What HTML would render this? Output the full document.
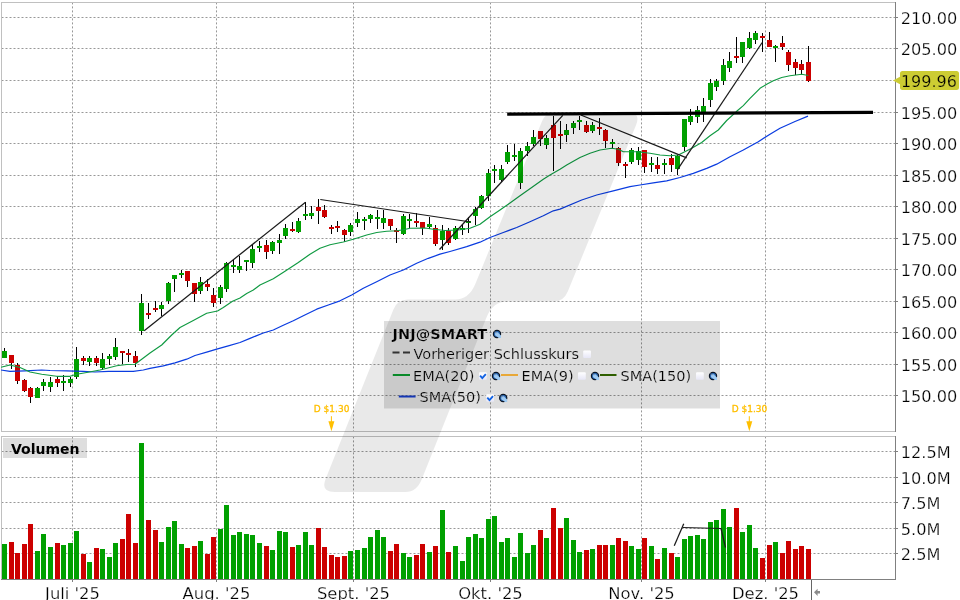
<!DOCTYPE html>
<html lang="de"><head><meta charset="utf-8"><title>JNJ@SMART Chart</title>
<style>html,body{margin:0;padding:0;background:#fff;overflow:hidden}body{width:960px;height:600px}</style>
</head><body>
<svg width="960" height="600" viewBox="0 0 960 600" style="display:block">
<defs>
<radialGradient id="gl" cx="0.6" cy="0.65" r="0.7"><stop offset="0" stop-color="#b9d6f2"/><stop offset="0.55" stop-color="#5b8fc7"/><stop offset="1" stop-color="#17325e"/></radialGradient>
<linearGradient id="cbg" x1="0" y1="0" x2="0" y2="1"><stop offset="0" stop-color="#ffffff"/><stop offset="1" stop-color="#e6e6f6"/></linearGradient>
</defs>
<rect width="960" height="600" fill="#fff"/>
<g stroke="#989898" stroke-width="1" stroke-dasharray="2 2" fill="none">
<path d="M1.5 17.5H895"/>
<path d="M1.5 48.5H895"/>
<path d="M1.5 80.5H895"/>
<path d="M1.5 112.5H895"/>
<path d="M1.5 143.5H895"/>
<path d="M1.5 175.5H895"/>
<path d="M1.5 206.5H895"/>
<path d="M1.5 238.5H895"/>
<path d="M1.5 269.5H895"/>
<path d="M1.5 301.5H895"/>
<path d="M1.5 332.5H895"/>
<path d="M1.5 364.5H895"/>
<path d="M1.5 395.5H895"/>
<path d="M1.5 451.5H895"/>
<path d="M1.5 477.5H895"/>
<path d="M1.5 502.5H895"/>
<path d="M1.5 528.5H895"/>
<path d="M1.5 553.5H895"/>
<path d="M72.5 2.4V431"/>
<path d="M72.5 436.4V579"/>
<path d="M216.5 2.4V431"/>
<path d="M216.5 436.4V579"/>
<path d="M353.5 2.4V431"/>
<path d="M353.5 436.4V579"/>
<path d="M490.5 2.4V431"/>
<path d="M490.5 436.4V579"/>
<path d="M641.5 2.4V431"/>
<path d="M641.5 436.4V579"/>
<path d="M765.5 2.4V431"/>
<path d="M765.5 436.4V579"/>
</g>
<g shape-rendering="crispEdges" fill="none" stroke-width="1">
<path d="M1.5 432V2.5H896" stroke="#c0c0c0"/>
<path d="M1 431.5H896" stroke="#c0c0c0"/>
<path d="M1.5 580V436.5H896" stroke="#c0c0c0"/>
<path d="M895.5 2V432M895.5 436V580" stroke="#808080"/>
<path d="M1 579.5H896" stroke="#808080"/>
<path d="M896 17.5H898" stroke="#808080"/>
<path d="M896 48.5H898" stroke="#808080"/>
<path d="M896 80.5H898" stroke="#808080"/>
<path d="M896 112.5H898" stroke="#808080"/>
<path d="M896 143.5H898" stroke="#808080"/>
<path d="M896 175.5H898" stroke="#808080"/>
<path d="M896 206.5H898" stroke="#808080"/>
<path d="M896 238.5H898" stroke="#808080"/>
<path d="M896 269.5H898" stroke="#808080"/>
<path d="M896 301.5H898" stroke="#808080"/>
<path d="M896 332.5H898" stroke="#808080"/>
<path d="M896 364.5H898" stroke="#808080"/>
<path d="M896 395.5H898" stroke="#808080"/>
<path d="M896 451.5H898" stroke="#808080"/>
<path d="M896 477.5H898" stroke="#808080"/>
<path d="M896 502.5H898" stroke="#808080"/>
<path d="M896 528.5H898" stroke="#808080"/>
<path d="M896 553.5H898" stroke="#808080"/>
<path d="M72.5 580V582" stroke="#808080"/>
<path d="M216.5 580V582" stroke="#808080"/>
<path d="M353.5 580V582" stroke="#808080"/>
<path d="M490.5 580V582" stroke="#808080"/>
<path d="M641.5 580V582" stroke="#808080"/>
<path d="M765.5 580V582" stroke="#808080"/>
<path d="M811.5 580V600" stroke="#666"/>
</g>
<rect x="384" y="321" width="336" height="87.5" fill="#000" fill-opacity="0.13"/>
<rect x="3" y="438" width="84" height="20" fill="#000" fill-opacity="0.13"/>
<g shape-rendering="crispEdges">
<rect x="2" y="544" width="5" height="35" fill="#00a000"/>
<rect x="9" y="542" width="5" height="37" fill="#cc0000"/>
<rect x="15" y="553" width="5" height="26" fill="#cc0000"/>
<rect x="22" y="544" width="5" height="35" fill="#cc0000"/>
<rect x="28" y="524" width="5" height="55" fill="#cc0000"/>
<rect x="35" y="551" width="5" height="28" fill="#00a000"/>
<rect x="41" y="534" width="5" height="45" fill="#00a000"/>
<rect x="48" y="547" width="5" height="32" fill="#00a000"/>
<rect x="55" y="543" width="5" height="36" fill="#cc0000"/>
<rect x="61" y="545" width="5" height="34" fill="#00a000"/>
<rect x="68" y="543" width="5" height="36" fill="#00a000"/>
<rect x="74" y="531" width="5" height="48" fill="#00a000"/>
<rect x="81" y="554" width="5" height="25" fill="#cc0000"/>
<rect x="87" y="562" width="5" height="17" fill="#00a000"/>
<rect x="94" y="548" width="5" height="31" fill="#cc0000"/>
<rect x="100" y="549" width="5" height="30" fill="#00a000"/>
<rect x="107" y="557" width="5" height="22" fill="#00a000"/>
<rect x="113" y="543" width="5" height="36" fill="#00a000"/>
<rect x="120" y="539" width="5" height="40" fill="#cc0000"/>
<rect x="126" y="514" width="5" height="65" fill="#cc0000"/>
<rect x="133" y="543" width="5" height="36" fill="#cc0000"/>
<rect x="139" y="443" width="5" height="136" fill="#00a000"/>
<rect x="146" y="520" width="5" height="59" fill="#cc0000"/>
<rect x="153" y="530" width="5" height="49" fill="#cc0000"/>
<rect x="159" y="542" width="5" height="37" fill="#00a000"/>
<rect x="166" y="527" width="5" height="52" fill="#00a000"/>
<rect x="172" y="521" width="5" height="58" fill="#00a000"/>
<rect x="179" y="544" width="5" height="35" fill="#00a000"/>
<rect x="185" y="548" width="5" height="31" fill="#cc0000"/>
<rect x="192" y="546" width="5" height="33" fill="#cc0000"/>
<rect x="198" y="541" width="5" height="38" fill="#00a000"/>
<rect x="205" y="554" width="5" height="25" fill="#cc0000"/>
<rect x="211" y="537" width="5" height="42" fill="#cc0000"/>
<rect x="218" y="529" width="5" height="50" fill="#00a000"/>
<rect x="224" y="505" width="5" height="74" fill="#00a000"/>
<rect x="231" y="535" width="5" height="44" fill="#00a000"/>
<rect x="237" y="532" width="5" height="47" fill="#00a000"/>
<rect x="244" y="534" width="5" height="45" fill="#00a000"/>
<rect x="250" y="535" width="5" height="44" fill="#00a000"/>
<rect x="257" y="543" width="5" height="36" fill="#00a000"/>
<rect x="264" y="546" width="5" height="33" fill="#cc0000"/>
<rect x="270" y="550" width="5" height="29" fill="#00a000"/>
<rect x="277" y="531" width="5" height="48" fill="#00a000"/>
<rect x="283" y="532" width="5" height="47" fill="#00a000"/>
<rect x="290" y="547" width="5" height="32" fill="#cc0000"/>
<rect x="296" y="545" width="5" height="34" fill="#00a000"/>
<rect x="303" y="532" width="5" height="47" fill="#00a000"/>
<rect x="309" y="545" width="5" height="34" fill="#00a000"/>
<rect x="316" y="528" width="5" height="51" fill="#cc0000"/>
<rect x="322" y="547" width="5" height="32" fill="#cc0000"/>
<rect x="329" y="555" width="5" height="24" fill="#cc0000"/>
<rect x="335" y="557" width="5" height="22" fill="#cc0000"/>
<rect x="342" y="556" width="5" height="23" fill="#cc0000"/>
<rect x="348" y="551" width="5" height="28" fill="#00a000"/>
<rect x="355" y="550" width="5" height="29" fill="#00a000"/>
<rect x="362" y="548" width="5" height="31" fill="#00a000"/>
<rect x="368" y="537" width="5" height="42" fill="#00a000"/>
<rect x="375" y="530" width="5" height="49" fill="#00a000"/>
<rect x="381" y="537" width="5" height="42" fill="#00a000"/>
<rect x="388" y="551" width="5" height="28" fill="#cc0000"/>
<rect x="394" y="544" width="5" height="35" fill="#cc0000"/>
<rect x="401" y="553" width="5" height="26" fill="#00a000"/>
<rect x="407" y="557" width="5" height="22" fill="#00a000"/>
<rect x="414" y="555" width="5" height="24" fill="#cc0000"/>
<rect x="420" y="544" width="5" height="35" fill="#cc0000"/>
<rect x="427" y="552" width="5" height="27" fill="#00a000"/>
<rect x="433" y="546" width="5" height="33" fill="#cc0000"/>
<rect x="440" y="510" width="5" height="69" fill="#00a000"/>
<rect x="446" y="552" width="5" height="27" fill="#cc0000"/>
<rect x="453" y="546" width="5" height="33" fill="#00a000"/>
<rect x="460" y="561" width="5" height="18" fill="#00a000"/>
<rect x="466" y="537" width="5" height="42" fill="#00a000"/>
<rect x="473" y="534" width="5" height="45" fill="#00a000"/>
<rect x="479" y="538" width="5" height="41" fill="#00a000"/>
<rect x="486" y="519" width="5" height="60" fill="#00a000"/>
<rect x="492" y="516" width="5" height="63" fill="#00a000"/>
<rect x="499" y="542" width="5" height="37" fill="#00a000"/>
<rect x="505" y="538" width="5" height="41" fill="#00a000"/>
<rect x="512" y="557" width="5" height="22" fill="#00a000"/>
<rect x="518" y="533" width="5" height="46" fill="#00a000"/>
<rect x="525" y="553" width="5" height="26" fill="#00a000"/>
<rect x="531" y="545" width="5" height="34" fill="#00a000"/>
<rect x="538" y="530" width="5" height="49" fill="#cc0000"/>
<rect x="544" y="538" width="5" height="41" fill="#00a000"/>
<rect x="551" y="508" width="5" height="71" fill="#cc0000"/>
<rect x="558" y="528" width="5" height="51" fill="#cc0000"/>
<rect x="564" y="518" width="5" height="61" fill="#00a000"/>
<rect x="571" y="540" width="5" height="39" fill="#00a000"/>
<rect x="577" y="552" width="5" height="27" fill="#00a000"/>
<rect x="584" y="550" width="5" height="29" fill="#cc0000"/>
<rect x="590" y="549" width="5" height="30" fill="#00a000"/>
<rect x="597" y="545" width="5" height="34" fill="#cc0000"/>
<rect x="603" y="545" width="5" height="34" fill="#cc0000"/>
<rect x="610" y="545" width="5" height="34" fill="#00a000"/>
<rect x="616" y="538" width="5" height="41" fill="#cc0000"/>
<rect x="623" y="541" width="5" height="38" fill="#cc0000"/>
<rect x="629" y="546" width="5" height="33" fill="#00a000"/>
<rect x="636" y="549" width="5" height="30" fill="#00a000"/>
<rect x="642" y="538" width="5" height="41" fill="#cc0000"/>
<rect x="649" y="546" width="5" height="33" fill="#00a000"/>
<rect x="655" y="559" width="5" height="20" fill="#cc0000"/>
<rect x="662" y="548" width="5" height="31" fill="#00a000"/>
<rect x="669" y="553" width="5" height="26" fill="#cc0000"/>
<rect x="675" y="557" width="5" height="22" fill="#00a000"/>
<rect x="682" y="539" width="5" height="40" fill="#00a000"/>
<rect x="688" y="536" width="5" height="43" fill="#00a000"/>
<rect x="695" y="535" width="5" height="44" fill="#00a000"/>
<rect x="701" y="539" width="5" height="40" fill="#00a000"/>
<rect x="708" y="522" width="5" height="57" fill="#00a000"/>
<rect x="714" y="520" width="5" height="59" fill="#00a000"/>
<rect x="721" y="509" width="5" height="70" fill="#00a000"/>
<rect x="727" y="527" width="5" height="52" fill="#00a000"/>
<rect x="734" y="508" width="5" height="71" fill="#cc0000"/>
<rect x="740" y="532" width="5" height="47" fill="#00a000"/>
<rect x="747" y="525" width="5" height="54" fill="#00a000"/>
<rect x="753" y="548" width="5" height="31" fill="#00a000"/>
<rect x="760" y="558" width="5" height="21" fill="#cc0000"/>
<rect x="767" y="545" width="5" height="34" fill="#cc0000"/>
<rect x="773" y="542" width="5" height="37" fill="#00a000"/>
<rect x="780" y="553" width="5" height="26" fill="#cc0000"/>
<rect x="786" y="541" width="5" height="38" fill="#cc0000"/>
<rect x="793" y="549" width="5" height="30" fill="#cc0000"/>
<rect x="799" y="546" width="5" height="33" fill="#cc0000"/>
<rect x="806" y="549" width="5" height="30" fill="#cc0000"/>
</g>
<g shape-rendering="crispEdges">
<rect x="4" y="348" width="1" height="10" fill="#000"/>
<rect x="2" y="351" width="5" height="7" fill="#00a000"/>
<rect x="11" y="355" width="1" height="14" fill="#000"/>
<rect x="9" y="355" width="5" height="8" fill="#cc0000"/>
<rect x="17" y="363" width="1" height="21" fill="#000"/>
<rect x="15" y="365" width="5" height="16" fill="#cc0000"/>
<rect x="24" y="379" width="1" height="13" fill="#000"/>
<rect x="22" y="380" width="5" height="11" fill="#cc0000"/>
<rect x="30" y="387" width="1" height="16" fill="#000"/>
<rect x="28" y="388" width="5" height="9" fill="#cc0000"/>
<rect x="37" y="387" width="1" height="11" fill="#000"/>
<rect x="35" y="388" width="5" height="10" fill="#00a000"/>
<rect x="43" y="379" width="1" height="12" fill="#000"/>
<rect x="41" y="382" width="5" height="4" fill="#00a000"/>
<rect x="50" y="377" width="1" height="15" fill="#000"/>
<rect x="48" y="382" width="5" height="5" fill="#00a000"/>
<rect x="57" y="376" width="1" height="11" fill="#000"/>
<rect x="55" y="379" width="5" height="4" fill="#cc0000"/>
<rect x="63" y="375" width="1" height="16" fill="#000"/>
<rect x="61" y="381" width="5" height="2" fill="#00a000"/>
<rect x="70" y="377" width="1" height="10" fill="#000"/>
<rect x="68" y="379" width="5" height="4" fill="#00a000"/>
<rect x="76" y="347" width="1" height="32" fill="#000"/>
<rect x="74" y="359" width="5" height="18" fill="#00a000"/>
<rect x="83" y="356" width="1" height="9" fill="#000"/>
<rect x="81" y="358" width="5" height="3" fill="#cc0000"/>
<rect x="89" y="356" width="1" height="10" fill="#000"/>
<rect x="87" y="358" width="5" height="4" fill="#00a000"/>
<rect x="96" y="356" width="1" height="10" fill="#000"/>
<rect x="94" y="358" width="5" height="5" fill="#cc0000"/>
<rect x="102" y="353" width="1" height="17" fill="#000"/>
<rect x="100" y="359" width="5" height="9" fill="#00a000"/>
<rect x="109" y="354" width="1" height="11" fill="#000"/>
<rect x="107" y="356" width="5" height="3" fill="#00a000"/>
<rect x="115" y="338" width="1" height="22" fill="#000"/>
<rect x="113" y="347" width="5" height="10" fill="#00a000"/>
<rect x="122" y="351" width="1" height="13" fill="#000"/>
<rect x="120" y="351" width="5" height="2" fill="#cc0000"/>
<rect x="128" y="349" width="1" height="13" fill="#000"/>
<rect x="126" y="353" width="5" height="2" fill="#cc0000"/>
<rect x="135" y="351" width="1" height="16" fill="#000"/>
<rect x="133" y="356" width="5" height="7" fill="#cc0000"/>
<rect x="141" y="294" width="1" height="41" fill="#000"/>
<rect x="139" y="303" width="5" height="28" fill="#00a000"/>
<rect x="148" y="303" width="1" height="16" fill="#000"/>
<rect x="146" y="313" width="5" height="2" fill="#cc0000"/>
<rect x="155" y="301" width="1" height="11" fill="#000"/>
<rect x="153" y="308" width="5" height="2" fill="#cc0000"/>
<rect x="161" y="302" width="1" height="14" fill="#000"/>
<rect x="159" y="305" width="5" height="4" fill="#00a000"/>
<rect x="168" y="282" width="1" height="22" fill="#000"/>
<rect x="166" y="283" width="5" height="18" fill="#00a000"/>
<rect x="174" y="275" width="1" height="17" fill="#000"/>
<rect x="172" y="275" width="5" height="4" fill="#00a000"/>
<rect x="181" y="270" width="1" height="8" fill="#000"/>
<rect x="179" y="273" width="5" height="2" fill="#00a000"/>
<rect x="187" y="271" width="1" height="16" fill="#000"/>
<rect x="185" y="271" width="5" height="10" fill="#cc0000"/>
<rect x="194" y="283" width="1" height="19" fill="#000"/>
<rect x="192" y="283" width="5" height="11" fill="#cc0000"/>
<rect x="200" y="277" width="1" height="17" fill="#000"/>
<rect x="198" y="282" width="5" height="9" fill="#00a000"/>
<rect x="207" y="279" width="1" height="12" fill="#000"/>
<rect x="205" y="284" width="5" height="3" fill="#cc0000"/>
<rect x="213" y="288" width="1" height="19" fill="#000"/>
<rect x="211" y="295" width="5" height="8" fill="#cc0000"/>
<rect x="220" y="285" width="1" height="19" fill="#000"/>
<rect x="218" y="287" width="5" height="11" fill="#00a000"/>
<rect x="226" y="262" width="1" height="30" fill="#000"/>
<rect x="224" y="263" width="5" height="26" fill="#00a000"/>
<rect x="233" y="260" width="1" height="13" fill="#000"/>
<rect x="231" y="265" width="5" height="2" fill="#00a000"/>
<rect x="239" y="256" width="1" height="17" fill="#000"/>
<rect x="237" y="266" width="5" height="4" fill="#00a000"/>
<rect x="246" y="260" width="1" height="11" fill="#000"/>
<rect x="244" y="260" width="5" height="2" fill="#00a000"/>
<rect x="252" y="245" width="1" height="23" fill="#000"/>
<rect x="250" y="249" width="5" height="14" fill="#00a000"/>
<rect x="259" y="241" width="1" height="11" fill="#000"/>
<rect x="257" y="246" width="5" height="2" fill="#00a000"/>
<rect x="266" y="240" width="1" height="19" fill="#000"/>
<rect x="264" y="245" width="5" height="7" fill="#cc0000"/>
<rect x="272" y="241" width="1" height="13" fill="#000"/>
<rect x="270" y="242" width="5" height="9" fill="#00a000"/>
<rect x="279" y="234" width="1" height="20" fill="#000"/>
<rect x="277" y="240" width="5" height="3" fill="#00a000"/>
<rect x="285" y="224" width="1" height="15" fill="#000"/>
<rect x="283" y="228" width="5" height="8" fill="#00a000"/>
<rect x="292" y="222" width="1" height="10" fill="#000"/>
<rect x="290" y="229" width="5" height="2" fill="#cc0000"/>
<rect x="298" y="218" width="1" height="15" fill="#000"/>
<rect x="296" y="221" width="5" height="11" fill="#00a000"/>
<rect x="305" y="202" width="1" height="18" fill="#000"/>
<rect x="303" y="214" width="5" height="2" fill="#00a000"/>
<rect x="311" y="206" width="1" height="13" fill="#000"/>
<rect x="309" y="213" width="5" height="3" fill="#00a000"/>
<rect x="318" y="199" width="1" height="25" fill="#000"/>
<rect x="316" y="207" width="5" height="4" fill="#cc0000"/>
<rect x="324" y="205" width="1" height="13" fill="#000"/>
<rect x="322" y="210" width="5" height="7" fill="#cc0000"/>
<rect x="331" y="225" width="1" height="9" fill="#000"/>
<rect x="329" y="227" width="5" height="2" fill="#cc0000"/>
<rect x="337" y="221" width="1" height="11" fill="#000"/>
<rect x="335" y="226" width="5" height="2" fill="#cc0000"/>
<rect x="344" y="229" width="1" height="13" fill="#000"/>
<rect x="342" y="230" width="5" height="5" fill="#cc0000"/>
<rect x="350" y="223" width="1" height="13" fill="#000"/>
<rect x="348" y="225" width="5" height="7" fill="#00a000"/>
<rect x="357" y="212" width="1" height="15" fill="#000"/>
<rect x="355" y="219" width="5" height="4" fill="#00a000"/>
<rect x="364" y="217" width="1" height="13" fill="#000"/>
<rect x="362" y="219" width="5" height="2" fill="#00a000"/>
<rect x="370" y="214" width="1" height="9" fill="#000"/>
<rect x="368" y="215" width="5" height="4" fill="#00a000"/>
<rect x="377" y="210" width="1" height="19" fill="#000"/>
<rect x="375" y="217" width="5" height="2" fill="#00a000"/>
<rect x="383" y="210" width="1" height="19" fill="#000"/>
<rect x="381" y="218" width="5" height="5" fill="#00a000"/>
<rect x="390" y="219" width="1" height="11" fill="#000"/>
<rect x="388" y="219" width="5" height="7" fill="#cc0000"/>
<rect x="396" y="228" width="1" height="15" fill="#000"/>
<rect x="394" y="230" width="5" height="2" fill="#cc0000"/>
<rect x="403" y="214" width="1" height="21" fill="#000"/>
<rect x="401" y="216" width="5" height="18" fill="#00a000"/>
<rect x="409" y="214" width="1" height="14" fill="#000"/>
<rect x="407" y="219" width="5" height="2" fill="#00a000"/>
<rect x="416" y="213" width="1" height="14" fill="#000"/>
<rect x="414" y="221" width="5" height="2" fill="#cc0000"/>
<rect x="422" y="222" width="1" height="13" fill="#000"/>
<rect x="420" y="222" width="5" height="6" fill="#cc0000"/>
<rect x="429" y="217" width="1" height="12" fill="#000"/>
<rect x="427" y="224" width="5" height="3" fill="#00a000"/>
<rect x="435" y="225" width="1" height="21" fill="#000"/>
<rect x="433" y="228" width="5" height="16" fill="#cc0000"/>
<rect x="442" y="225" width="1" height="25" fill="#000"/>
<rect x="440" y="231" width="5" height="9" fill="#00a000"/>
<rect x="448" y="228" width="1" height="17" fill="#000"/>
<rect x="446" y="231" width="5" height="12" fill="#cc0000"/>
<rect x="455" y="226" width="1" height="14" fill="#000"/>
<rect x="453" y="228" width="5" height="11" fill="#00a000"/>
<rect x="462" y="225" width="1" height="10" fill="#000"/>
<rect x="460" y="228" width="5" height="2" fill="#00a000"/>
<rect x="468" y="217" width="1" height="16" fill="#000"/>
<rect x="466" y="221" width="5" height="2" fill="#00a000"/>
<rect x="475" y="207" width="1" height="18" fill="#000"/>
<rect x="473" y="209" width="5" height="7" fill="#00a000"/>
<rect x="481" y="195" width="1" height="14" fill="#000"/>
<rect x="479" y="196" width="5" height="12" fill="#00a000"/>
<rect x="488" y="169" width="1" height="32" fill="#000"/>
<rect x="486" y="173" width="5" height="23" fill="#00a000"/>
<rect x="494" y="165" width="1" height="18" fill="#000"/>
<rect x="492" y="169" width="5" height="2" fill="#00a000"/>
<rect x="501" y="165" width="1" height="17" fill="#000"/>
<rect x="499" y="169" width="5" height="11" fill="#00a000"/>
<rect x="507" y="145" width="1" height="19" fill="#000"/>
<rect x="505" y="152" width="5" height="10" fill="#00a000"/>
<rect x="514" y="144" width="1" height="17" fill="#000"/>
<rect x="512" y="155" width="5" height="2" fill="#00a000"/>
<rect x="520" y="148" width="1" height="41" fill="#000"/>
<rect x="518" y="151" width="5" height="32" fill="#00a000"/>
<rect x="527" y="142" width="1" height="14" fill="#000"/>
<rect x="525" y="146" width="5" height="5" fill="#00a000"/>
<rect x="533" y="130" width="1" height="16" fill="#000"/>
<rect x="531" y="137" width="5" height="7" fill="#00a000"/>
<rect x="540" y="131" width="1" height="15" fill="#000"/>
<rect x="538" y="131" width="5" height="8" fill="#cc0000"/>
<rect x="546" y="135" width="1" height="14" fill="#000"/>
<rect x="544" y="138" width="5" height="7" fill="#00a000"/>
<rect x="553" y="116" width="1" height="55" fill="#000"/>
<rect x="551" y="125" width="5" height="13" fill="#cc0000"/>
<rect x="560" y="121" width="1" height="28" fill="#000"/>
<rect x="558" y="134" width="5" height="2" fill="#cc0000"/>
<rect x="566" y="124" width="1" height="18" fill="#000"/>
<rect x="564" y="130" width="5" height="5" fill="#00a000"/>
<rect x="573" y="121" width="1" height="13" fill="#000"/>
<rect x="571" y="123" width="5" height="5" fill="#00a000"/>
<rect x="579" y="116" width="1" height="14" fill="#000"/>
<rect x="577" y="120" width="5" height="2" fill="#00a000"/>
<rect x="586" y="121" width="1" height="12" fill="#000"/>
<rect x="584" y="125" width="5" height="7" fill="#cc0000"/>
<rect x="592" y="122" width="1" height="11" fill="#000"/>
<rect x="590" y="125" width="5" height="6" fill="#00a000"/>
<rect x="599" y="118" width="1" height="17" fill="#000"/>
<rect x="597" y="127" width="5" height="2" fill="#cc0000"/>
<rect x="605" y="129" width="1" height="19" fill="#000"/>
<rect x="603" y="130" width="5" height="11" fill="#cc0000"/>
<rect x="612" y="139" width="1" height="9" fill="#000"/>
<rect x="610" y="142" width="5" height="2" fill="#00a000"/>
<rect x="618" y="147" width="1" height="19" fill="#000"/>
<rect x="616" y="148" width="5" height="15" fill="#cc0000"/>
<rect x="625" y="162" width="1" height="16" fill="#000"/>
<rect x="623" y="164" width="5" height="2" fill="#cc0000"/>
<rect x="631" y="148" width="1" height="16" fill="#000"/>
<rect x="629" y="150" width="5" height="12" fill="#00a000"/>
<rect x="638" y="147" width="1" height="18" fill="#000"/>
<rect x="636" y="151" width="5" height="9" fill="#00a000"/>
<rect x="644" y="150" width="1" height="23" fill="#000"/>
<rect x="642" y="150" width="5" height="17" fill="#cc0000"/>
<rect x="651" y="157" width="1" height="15" fill="#000"/>
<rect x="649" y="163" width="5" height="2" fill="#00a000"/>
<rect x="657" y="157" width="1" height="17" fill="#000"/>
<rect x="655" y="165" width="5" height="4" fill="#cc0000"/>
<rect x="664" y="159" width="1" height="15" fill="#000"/>
<rect x="662" y="163" width="5" height="2" fill="#00a000"/>
<rect x="671" y="154" width="1" height="18" fill="#000"/>
<rect x="669" y="158" width="5" height="7" fill="#cc0000"/>
<rect x="677" y="155" width="1" height="20" fill="#000"/>
<rect x="675" y="156" width="5" height="13" fill="#00a000"/>
<rect x="684" y="119" width="1" height="32" fill="#000"/>
<rect x="682" y="119" width="5" height="28" fill="#00a000"/>
<rect x="690" y="109" width="1" height="16" fill="#000"/>
<rect x="688" y="116" width="5" height="6" fill="#00a000"/>
<rect x="697" y="106" width="1" height="17" fill="#000"/>
<rect x="695" y="110" width="5" height="7" fill="#00a000"/>
<rect x="703" y="98" width="1" height="24" fill="#000"/>
<rect x="701" y="106" width="5" height="6" fill="#00a000"/>
<rect x="710" y="79" width="1" height="28" fill="#000"/>
<rect x="708" y="83" width="5" height="17" fill="#00a000"/>
<rect x="716" y="79" width="1" height="12" fill="#000"/>
<rect x="714" y="81" width="5" height="6" fill="#00a000"/>
<rect x="723" y="59" width="1" height="26" fill="#000"/>
<rect x="721" y="65" width="5" height="16" fill="#00a000"/>
<rect x="729" y="52" width="1" height="20" fill="#000"/>
<rect x="727" y="61" width="5" height="7" fill="#00a000"/>
<rect x="736" y="37" width="1" height="26" fill="#000"/>
<rect x="734" y="56" width="5" height="2" fill="#cc0000"/>
<rect x="742" y="42" width="1" height="21" fill="#000"/>
<rect x="740" y="42" width="5" height="15" fill="#00a000"/>
<rect x="749" y="32" width="1" height="17" fill="#000"/>
<rect x="747" y="38" width="5" height="10" fill="#00a000"/>
<rect x="755" y="31" width="1" height="13" fill="#000"/>
<rect x="753" y="33" width="5" height="7" fill="#00a000"/>
<rect x="762" y="33" width="1" height="19" fill="#000"/>
<rect x="760" y="36" width="5" height="2" fill="#cc0000"/>
<rect x="769" y="32" width="1" height="15" fill="#000"/>
<rect x="767" y="40" width="5" height="7" fill="#cc0000"/>
<rect x="775" y="45" width="1" height="17" fill="#000"/>
<rect x="773" y="46" width="5" height="2" fill="#00a000"/>
<rect x="782" y="36" width="1" height="14" fill="#000"/>
<rect x="780" y="43" width="5" height="4" fill="#cc0000"/>
<rect x="788" y="50" width="1" height="21" fill="#000"/>
<rect x="786" y="52" width="5" height="13" fill="#cc0000"/>
<rect x="795" y="59" width="1" height="16" fill="#000"/>
<rect x="793" y="62" width="5" height="6" fill="#cc0000"/>
<rect x="801" y="60" width="1" height="14" fill="#000"/>
<rect x="799" y="64" width="5" height="6" fill="#cc0000"/>
<rect x="808" y="46" width="1" height="36" fill="#000"/>
<rect x="806" y="62" width="5" height="19" fill="#cc0000"/>
</g>
<path d="M1.0 370.0 L10.0 371.3 L25.0 370.8 L41.7 370.0 L50.0 370.5 L66.7 370.8 L83.3 371.3 L95.0 372.0 L108.3 371.3 L133.3 371.3 L143.3 370.0 L150.0 368.3 L163.3 365.8 L175.0 362.8 L186.7 359.2 L195.0 355.5 L206.7 352.2 L216.7 349.2 L228.3 345.8 L240.0 342.5 L250.0 338.3 L263.3 333.0 L273.3 330.0 L283.3 325.3 L293.3 320.8 L303.3 315.8 L316.7 309.2 L328.3 305.0 L340.0 300.8 L351.7 295.0 L363.3 288.3 L376.7 281.7 L390.0 275.0 L403.3 270.0 L416.7 263.3 L428.3 258.3 L440.0 254.2 L450.0 251.5 L466.7 246.7 L480.0 242.2 L490.0 237.5 L503.3 232.5 L516.7 227.5 L530.0 221.7 L543.3 215.8 L553.3 210.8 L560.0 209.2 L581.7 200.0 L596.7 195.0 L613.3 190.8 L630.0 186.7 L640.0 185.0 L653.3 182.8 L666.7 180.8 L680.0 177.5 L693.3 173.3 L706.7 168.3 L716.7 164.2 L730.0 156.7 L743.3 150.0 L758.3 141.7 L770.0 134.2 L780.0 128.3 L795.0 121.5 L808.0 116.2" fill="none" stroke="#0a3ce0" stroke-width="1.25" stroke-linejoin="round"/>
<path d="M1.0 367.2 L10.0 365.0 L20.0 367.5 L30.0 372.0 L41.7 374.2 L56.7 376.3 L70.0 376.3 L76.7 374.2 L86.7 372.5 L100.0 370.0 L116.7 365.8 L126.7 364.5 L135.0 364.2 L141.7 359.2 L150.0 353.0 L161.7 345.0 L171.7 335.0 L180.0 327.5 L193.3 320.5 L206.7 313.2 L217.5 311.0 L223.3 307.5 L232.5 301.2 L240.0 298.0 L246.7 293.5 L253.3 290.0 L260.0 285.0 L273.3 278.7 L285.0 271.3 L298.3 262.5 L310.0 254.2 L320.0 248.3 L330.0 244.7 L343.3 242.0 L353.3 239.2 L366.7 235.0 L376.7 232.5 L386.7 231.2 L396.7 230.8 L403.3 229.7 L410.0 228.3 L425.0 228.0 L433.3 229.2 L445.0 230.5 L458.3 230.0 L470.0 228.3 L480.0 224.2 L490.0 216.7 L500.0 210.0 L510.0 203.0 L520.0 195.8 L531.7 187.5 L543.3 179.2 L550.0 175.0 L560.0 169.2 L566.7 165.0 L580.0 157.5 L590.0 153.3 L600.0 150.0 L611.7 148.3 L618.3 149.2 L623.3 151.7 L636.7 151.7 L650.0 153.3 L660.0 155.0 L670.0 155.8 L678.3 155.0 L683.3 152.5 L691.7 148.3 L701.7 142.5 L710.0 135.8 L718.3 130.0 L726.7 120.5 L736.7 111.3 L743.3 105.6 L750.0 98.3 L760.0 88.3 L766.7 84.2 L773.3 80.8 L781.7 77.5 L790.0 75.8 L801.7 74.2 L808.3 75.5" fill="none" stroke="#109a42" stroke-width="1.15" stroke-linejoin="round"/>
<g stroke="#1a1a1a" stroke-width="1.25" fill="none" stroke-linecap="butt">
<path d="M144.2 330.8L305.5 202.2"/>
<path d="M320.3 199.5L470.8 222"/>
<path d="M439.5 249.5L562.8 115.3"/>
<path d="M580.8 115L686.7 157.8"/>
<path d="M677.5 169.7L762.2 42.5"/>
<path d="M674.25 545.75L683.75 523.75"/>
<path d="M682.5 527.5L721.25 528.5"/>
<path d="M721 528.5L725.5 547.5"/>
</g>
<path d="M507.2 114.2L873 112.4" stroke="#000" stroke-width="3.3" fill="none"/>
<path d="M551.2 113.5 H630.8 Q640.8 113.5 635.9 125.5 L567.8 291.5 Q563.7 301.5 553.7 301.5 H506.9 Q492.9 301.5 486.5 317.5 L421.9 479 Q416.7 492 405.7 492 H334.4 Q320.4 492 325.6 479 L393.4 309.5 Q397.4 299.5 407.4 299.5 H455.0 Q469.0 299.5 475.5 283.5 L541.9 121.5 Q545.2 113.5 551.2 113.5 Z" fill="#000" fill-opacity="0.085"/>
<path d="M902.5 71H956.5Q959 71 959 73.5V87.5Q959 90 956.5 90H902.5Q900 90 900 87.5V84.2L893 80.5L900 76.8V73.5Q900 71 902.5 71Z" fill="#cccc33"/>
<g font-family='"DejaVu Sans", "Liberation Sans", sans-serif' font-size="16.2" fill="#000" stroke="#fff" stroke-width="0.25" paint-order="fill stroke">
<text x="900.7" y="23.6">210.00</text>
<text x="900.7" y="54.6">205.00</text>
<text x="900.7" y="118.6">195.00</text>
<text x="900.7" y="149.6">190.00</text>
<text x="900.7" y="181.6">185.00</text>
<text x="900.7" y="212.6">180.00</text>
<text x="900.7" y="244.6">175.00</text>
<text x="900.7" y="275.6">170.00</text>
<text x="900.7" y="307.6">165.00</text>
<text x="900.7" y="338.6">160.00</text>
<text x="900.7" y="370.6">155.00</text>
<text x="900.7" y="401.6">150.00</text>
<text x="900.9" y="86.8" font-size="16" stroke="#cccc33">199.96</text>
<text x="900.7" y="457.6">12.5M</text>
<text x="900.7" y="483.6">10.0M</text>
<text x="900.7" y="508.6">7.5M</text>
<text x="900.7" y="534.6">5.0M</text>
<text x="900.7" y="559.6">2.5M</text>
<text x="72.5" y="598.6" font-size="16.4" text-anchor="middle">Juli '25</text>
<text x="216.5" y="598.6" font-size="16.4" text-anchor="middle">Aug. '25</text>
<text x="353.5" y="598.6" font-size="16.4" text-anchor="middle">Sept. '25</text>
<text x="490.5" y="598.6" font-size="16.4" text-anchor="middle">Okt. '25</text>
<text x="641.5" y="598.6" font-size="16.4" text-anchor="middle">Nov. '25</text>
<text x="765.5" y="598.6" font-size="16.4" text-anchor="middle">Dez. '25</text>
</g>
<text x="11" y="454" font-family='"DejaVu Sans", "Liberation Sans", sans-serif' font-size="14" font-weight="bold" fill="#000">Volumen</text>
<g font-family='"DejaVu Sans", "Liberation Sans", sans-serif' font-size="14.5" fill="#000" stroke="#d8d8d8" stroke-width="0.22" paint-order="fill stroke">
<text x="392.6" y="339" font-weight="bold" letter-spacing="0.08" id="t_jnj">JNJ@SMART</text>
<text x="413.5" y="359" id="t_vs">Vorheriger Schlusskurs</text>
<text x="413" y="380.6" id="t_e20">EMA(20)</text>
<text x="521.5" y="380.6" id="t_e9">EMA(9)</text>
<text x="620.5" y="380.6" id="t_s150">SMA(150)</text>
<text x="419.5" y="402.2" id="t_s50">SMA(50)</text>
</g>
<path d="M392.5 352.5H399.5M403 352.5H410" stroke="#333" stroke-width="2" fill="none"/>
<path d="M392.8 375H410" stroke="#0a8a2a" stroke-width="2"/>
<path d="M501 375H518" stroke="#e8a838" stroke-width="2"/>
<path d="M600 375H616.5" stroke="#2f5f00" stroke-width="2"/>
<path d="M398.8 396.5H415.6" stroke="#1436b4" stroke-width="2"/>
<g transform="translate(497 334)"><circle r="3.6" fill="#2d6cb8" stroke="#0a1424" stroke-width="1.2"/><path d="M-1.6 -1.2Q0.8 -2.6 1.8 -0.4L4 1.6V4.1H1.8L-0.4 2.2Q-2.8 1.6 -1.6 -1.2Z" fill="#9fcbf3"/><path d="M-2.2 -2.4L-0.6 -0.8" stroke="#8a8f98" stroke-width="0.9"/></g>
<rect x="583.2" y="350.4" width="7.8" height="7.6" rx="1" fill="url(#cbg)"/>
<rect x="479" y="372.2" width="7.8" height="7.6" rx="1" fill="url(#cbg)"/>
<path d="M480.1 375.59999999999997L482.3 378.2L485.8 374.09999999999997" stroke="#1162e2" stroke-width="1.8" fill="none"/>
<g transform="translate(496 376)"><circle r="3.6" fill="#2d6cb8" stroke="#0a1424" stroke-width="1.2"/><path d="M-1.6 -1.2Q0.8 -2.6 1.8 -0.4L4 1.6V4.1H1.8L-0.4 2.2Q-2.8 1.6 -1.6 -1.2Z" fill="#9fcbf3"/><path d="M-2.2 -2.4L-0.6 -0.8" stroke="#8a8f98" stroke-width="0.9"/></g>
<rect x="578" y="372.2" width="7.8" height="7.6" rx="1" fill="url(#cbg)"/>
<g transform="translate(595 376)"><circle r="3.6" fill="#2d6cb8" stroke="#0a1424" stroke-width="1.2"/><path d="M-1.6 -1.2Q0.8 -2.6 1.8 -0.4L4 1.6V4.1H1.8L-0.4 2.2Q-2.8 1.6 -1.6 -1.2Z" fill="#9fcbf3"/><path d="M-2.2 -2.4L-0.6 -0.8" stroke="#8a8f98" stroke-width="0.9"/></g>
<rect x="696" y="372.2" width="7.8" height="7.6" rx="1" fill="url(#cbg)"/>
<g transform="translate(713 376)"><circle r="3.6" fill="#2d6cb8" stroke="#0a1424" stroke-width="1.2"/><path d="M-1.6 -1.2Q0.8 -2.6 1.8 -0.4L4 1.6V4.1H1.8L-0.4 2.2Q-2.8 1.6 -1.6 -1.2Z" fill="#9fcbf3"/><path d="M-2.2 -2.4L-0.6 -0.8" stroke="#8a8f98" stroke-width="0.9"/></g>
<rect x="486.2" y="394.2" width="7.8" height="7.6" rx="1" fill="url(#cbg)"/>
<path d="M487.3 397.59999999999997L489.5 400.2L493.0 396.09999999999997" stroke="#1162e2" stroke-width="1.8" fill="none"/>
<g transform="translate(503.2 398)"><circle r="3.6" fill="#2d6cb8" stroke="#0a1424" stroke-width="1.2"/><path d="M-1.6 -1.2Q0.8 -2.6 1.8 -0.4L4 1.6V4.1H1.8L-0.4 2.2Q-2.8 1.6 -1.6 -1.2Z" fill="#9fcbf3"/><path d="M-2.2 -2.4L-0.6 -0.8" stroke="#8a8f98" stroke-width="0.9"/></g>
<text x="331.59999999999997" y="411.7" text-anchor="middle" font-family='"DejaVu Sans", "Liberation Sans", sans-serif' font-size="9" fill="#ffbf00" stroke="#ffbf00" stroke-width="0.3">D $1.30</text>
<path d="M331.4 416.2V423" stroke="#ffbf00" stroke-width="1"/>
<path d="M328.4 421.2H334.4L331.4 431.3Z" fill="#ffbf00"/>
<text x="749.5" y="411.7" text-anchor="middle" font-family='"DejaVu Sans", "Liberation Sans", sans-serif' font-size="9" fill="#ffbf00" stroke="#ffbf00" stroke-width="0.3">D $1.30</text>
<path d="M749.3 416.2V423" stroke="#ffbf00" stroke-width="1"/>
<path d="M746.3 421.2H752.3L749.3 431.3Z" fill="#ffbf00"/>
<path d="M814 592.3L817.6 588.7V591H820V593.6H817.6V596Z" fill="#8a8a8a"/>
</svg>
</body></html>
